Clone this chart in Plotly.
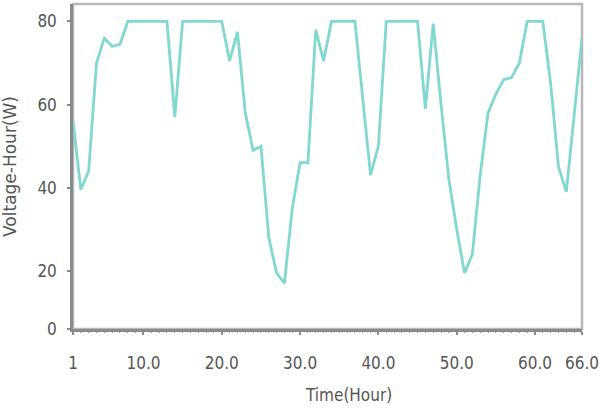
import plotly.graph_objects as go

hours = list(range(1, 67))
values = [
    56, 39.5, 44, 70, 76, 74, 74.5, 80, 80, 80,
    80, 80, 80, 57, 80, 80, 80, 80, 80, 80,
    70.5, 77.5, 58, 49, 50, 28, 19.5, 17, 35, 46,
    46, 78, 70.5, 80, 80, 80, 80, 61.5, 43, 50,
    80, 80, 80, 80, 80, 59, 79.5, 60, 42, 30,
    19.5, 24, 43, 58, 62.5, 66, 66.5, 70, 80, 80,
    80, 65, 45, 39, 57, 76,
]

x_tickvals = [1, 10, 20, 30, 40, 50, 60, 66]
x_ticktext = ["1", "10.0", "20.0", "30.0", "40.0", "50.0", "60.0", "66.0"]
y_tickvals = [6, 20, 40, 60, 80]
y_ticktext = ["0", "20", "40", "60", "80"]
x_title = "Time(Hour)"
y_title = "Voltage-Hour(W)"

LINE_COLOR = "#80d8cf"
TXT = "#555555"
NARROW = "DejaVu Sans Condensed, Liberation Sans, Arial, sans-serif"

fig = go.Figure()
fig.add_trace(go.Scatter(
    x=hours, y=values, mode="lines",
    line=dict(color=LINE_COLOR, width=2.8),
    showlegend=False, hoverinfo="skip",
))

# light frame on top/right of plot area
fig.add_shape(type="rect", xref="paper", yref="paper", x0=0, y0=0, x1=1, y1=1,
              line=dict(color="#b8b8b8", width=2.5), layer="below")

# x-axis title placed right of centre as in the reference
fig.add_annotation(text=x_title, xref="paper", yref="paper", x=0.542, y=-0.203,
                   xanchor="center", yanchor="middle", showarrow=False,
                   font=dict(family=NARROW, size=17, color=TXT))

fig.update_layout(
    width=602, height=420, autosize=False,
    margin=dict(l=73, r=20, t=4, b=91),
    paper_bgcolor="white", plot_bgcolor="white",
    font=dict(family=NARROW, size=17, color=TXT),
    xaxis=dict(
        range=[1, 66], tickmode="array", tickvals=x_tickvals, ticktext=x_ticktext,
        showgrid=False, zeroline=False,
        showline=True, linecolor="#8a8a8a", linewidth=2.5,
        ticks="outside", ticklen=3, tickwidth=1.5, tickcolor="#8a8a8a",
        minor=dict(dtick=1, tick0=1, ticks="outside", ticklen=1.5, tickcolor="#9a9a9a", tickwidth=1),
        tickfont=dict(family=NARROW, size=17, color=TXT),
        ticklabelstandoff=14,
    ),
    yaxis=dict(
        range=[6, 84.2], tickmode="array", tickvals=y_tickvals, ticktext=y_ticktext,
        showgrid=False, zeroline=False,
        showline=True, linecolor="#8a8a8a", linewidth=2.5,
        ticks="outside", ticklen=3, tickwidth=1.5, tickcolor="#8a8a8a",
        tickfont=dict(family=NARROW, size=17, color=TXT),
        ticklabelstandoff=7,
        title=dict(text=y_title, font=dict(family="DejaVu Sans, sans-serif", size=17, color=TXT), standoff=20),
    ),
)

fig.write_html("out.html")
